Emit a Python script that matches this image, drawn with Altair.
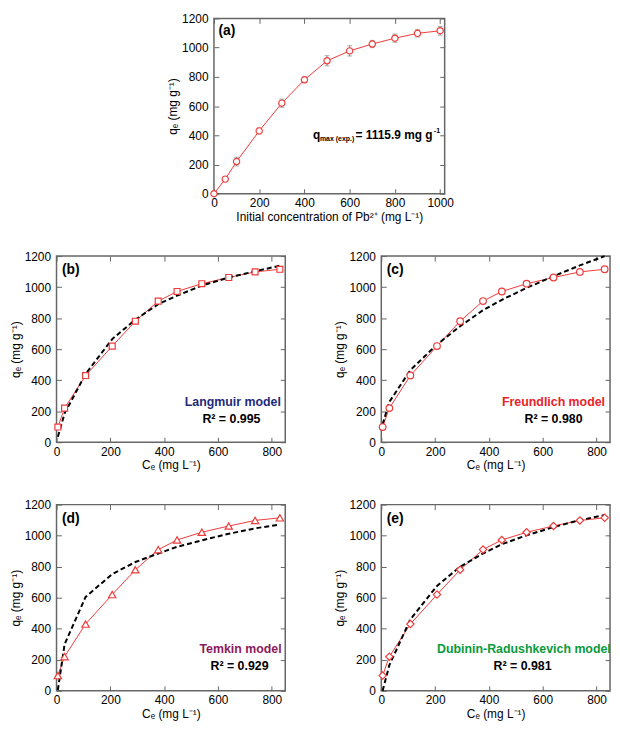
import altair as alt
import pandas as pd

# ---------------- data ----------------
conc_a = [0, 50, 100, 200, 300, 400, 500, 600, 700, 800, 900, 1000]
qe_a = [0, 100, 220, 430, 620, 780, 910, 978, 1025, 1065, 1098, 1115.9]
err_a = [0, 18, 30, 20, 28, 20, 35, 35, 25, 28, 25, 30]

ce = [5, 30, 108, 207, 293, 378, 448, 540, 640, 738, 830]
qe = [98, 220, 430, 620, 780, 910, 972, 1022, 1062, 1098, 1115]

fit_langmuir = [36, 186, 440, 665, 790, 890, 945, 1010, 1062, 1102, 1138]
fit_freundlich = [116, 260, 465, 630, 748, 851, 918, 995, 1070, 1140, 1200]
fit_temkin = [5, 300, 605, 752, 830, 885, 928, 970, 1012, 1047, 1072]
fit_dr = [0, 165, 460, 676, 800, 885, 945, 1002, 1055, 1100, 1133]

RED = "#ee3b3b"
FRAME = "#666666"
FONT = "Liberation Sans"

W, H = 231, 188
YVALS = [0, 200, 400, 600, 800, 1000, 1200]


def axes(domain_x, xvals, xtitle):
    xb = alt.Axis(values=xvals, title=xtitle, offset=-5, tickSize=5, domain=False,
                  labelPadding=4, labelFlush=False, grid=False, tickColor=FRAME,
                  labelFontSize=12, titleFontSize=12, titleFontWeight="normal",
                  titlePadding=3, labelColor="black", titleColor="black", format="d")
    yl = alt.Axis(values=YVALS, title="qₑ (mg g⁻¹)", format="d",
                  offset=-5, tickSize=5, domain=False, labelPadding=6, grid=False,
                  tickColor=FRAME, labelFontSize=12, titleFontSize=12,
                  titleFontWeight="normal", titlePadding=2, labelColor="black",
                  titleColor="black")
    xt = alt.Axis(values=xvals, orient="top", labels=False, title=None, offset=-5,
                  tickSize=5, domain=False, grid=False, tickColor=FRAME)
    yr = alt.Axis(values=YVALS, orient="right", labels=False, title=None, offset=-5,
                  tickSize=5, domain=False, grid=False, tickColor=FRAME)
    sx = alt.Scale(domain=domain_x, nice=False, zero=False)
    sy = alt.Scale(domain=[0, 1200], nice=False)
    return xb, yl, xt, yr, sx, sy


def text_layer(x, y, txt, size, color="black", align="left", dx=0, dy=0, weight="bold"):
    d = pd.DataFrame({"Ce": [x], "q": [y]})
    return alt.Chart(d).mark_text(text=txt, fontSize=size, font=FONT, fontWeight=weight,
                                  color=color, align=align, baseline="middle",
                                  dx=dx, dy=dy)


def panel(fit, shape, msize, letter, model, mcolor, r2, mx, my, rx, ry):
    xb, yl, xt, yr, sx, sy = axes([0, 850], [0, 200, 400, 600, 800], "Cₑ (mg L⁻¹)")
    df = pd.DataFrame({"Ce": ce, "q": qe, "fit": fit})
    X = alt.X("Ce:Q", scale=sx, axis=xb)
    Y = alt.Y("q:Q", scale=sy, axis=yl)
    line = alt.Chart(df).mark_line(color=RED, strokeWidth=1).encode(x=X, y=Y)
    pts = alt.Chart(df).mark_point(shape=shape, size=msize, fill="white",
                                   filled=True, stroke=RED, strokeWidth=1.2,
                                   opacity=1).encode(x=X, y=Y)
    fitl = alt.Chart(df).mark_line(color="black", strokeWidth=2,
                                   strokeDash=[5, 3]).encode(
        x=X, y=alt.Y("fit:Q", scale=sy, axis=yl))
    t1 = text_layer(20, 1110, "(" + letter + ")", 14).encode(x=X, y=Y)
    t2 = text_layer(mx, my, model, 12.5, color=mcolor, align="center").encode(x=X, y=Y)
    t3 = text_layer(rx, ry, "R² = " + r2, 12.5, align="center").encode(x=X, y=Y)
    main = alt.layer(line, fitl, pts, t1, t2, t3)
    ax = alt.Chart(df).mark_point(opacity=0).encode(
        x=alt.X("Ce:Q", scale=sx, axis=xt), y=alt.Y("q:Q", scale=sy, axis=yr))
    return alt.layer(main, ax).resolve_axis(x="independent", y="independent").properties(
        width=W, height=H)


# ---------------- panel (a) ----------------
xb, yl, xt, yr, sx, sy = axes([0, 1020], [0, 200, 400, 600, 800, 1000],
                              "Initial concentration of Pb²⁺ (mg L⁻¹)")
dfa = pd.DataFrame({"Ce": conc_a, "q": qe_a,
                    "lo": [v - e for v, e in zip(qe_a, err_a)],
                    "hi": [v + e for v, e in zip(qe_a, err_a)]})
XA = alt.X("Ce:Q", scale=sx, axis=xb)
YA = alt.Y("q:Q", scale=sy, axis=yl)
err_rule = alt.Chart(dfa).mark_rule(color="#888888", strokeWidth=1).encode(
    x=XA, y=alt.Y("lo:Q", scale=sy, axis=yl), y2="hi:Q")
cap_lo = alt.Chart(dfa).mark_tick(color="#888888", orient="horizontal", size=5,
                                  thickness=1).encode(x=XA, y=alt.Y("lo:Q", scale=sy, axis=yl))
cap_hi = alt.Chart(dfa).mark_tick(color="#888888", orient="horizontal", size=5,
                                  thickness=1).encode(x=XA, y=alt.Y("hi:Q", scale=sy, axis=yl))
line_a = alt.Chart(dfa).mark_line(color=RED, strokeWidth=1).encode(x=XA, y=YA)
pts_a = alt.Chart(dfa).mark_point(shape="circle", size=40, filled=True, fill="white",
                                  stroke=RED, strokeWidth=1.2, opacity=1).encode(x=XA, y=YA)
ta = text_layer(20, 1115, "(a)", 14).encode(x=XA, y=YA)
q1 = text_layer(438, 400, "q", 12).encode(x=XA, y=YA)
q2 = text_layer(438, 400, "max (exp.)", 7, dx=7, dy=4).encode(x=XA, y=YA)
q3 = text_layer(438, 400, "= 1115.9 mg g", 12, dx=43).encode(x=XA, y=YA)
q4 = text_layer(438, 400, "-1", 7, dx=122, dy=-4).encode(x=XA, y=YA)
main_a = alt.layer(line_a, err_rule, cap_lo, cap_hi, pts_a, ta, q1, q2, q3, q4)
ax_a = alt.Chart(dfa).mark_point(opacity=0).encode(
    x=alt.X("Ce:Q", scale=sx, axis=xt), y=alt.Y("q:Q", scale=sy, axis=yr))
panel_a = alt.layer(main_a, ax_a).resolve_axis(x="independent", y="independent").properties(
    width=W + 2, height=177)

spacer = alt.Chart(pd.DataFrame({"Ce": [0], "q": [0]})).mark_point(opacity=0).encode(
    x=alt.X("Ce:Q", axis=None), y=alt.Y("q:Q", axis=None)).properties(
    width=110, height=10, view=alt.ViewBackground(strokeOpacity=0))

pb = panel(fit_langmuir, "square", 36, "b", "Langmuir model", "#1f2a7a", "0.995",
           655, 257, 650, 150)
pc = panel(fit_freundlich, "circle", 45, "c", "Freundlich model", "#e8232a", "0.980",
           640, 257, 640, 150)
pd_ = panel(fit_temkin, "triangle-up", 55, "d", "Temkin model", "#8b1a5c", "0.929",
            684, 268, 680, 160)
pe = panel(fit_dr, "diamond", 55, "e", "Dubinin-Radushkevich model", "#0a9a3c", "0.981",
           530, 268, 525, 160)

row1 = alt.hconcat(spacer, panel_a, spacing=0)
row2 = alt.hconcat(pb, pc, spacing=46)
row3 = alt.hconcat(pd_, pe, spacing=46)

chart = alt.vconcat(row1, row2, row3, spacing=26).properties(padding=0).configure(
    font=FONT).configure_view(stroke=FRAME, strokeWidth=1.5).configure_axis(
    labelFont=FONT, titleFont=FONT)

chart.save("out.html", embed_options={"renderer": "svg", "actions": False})
